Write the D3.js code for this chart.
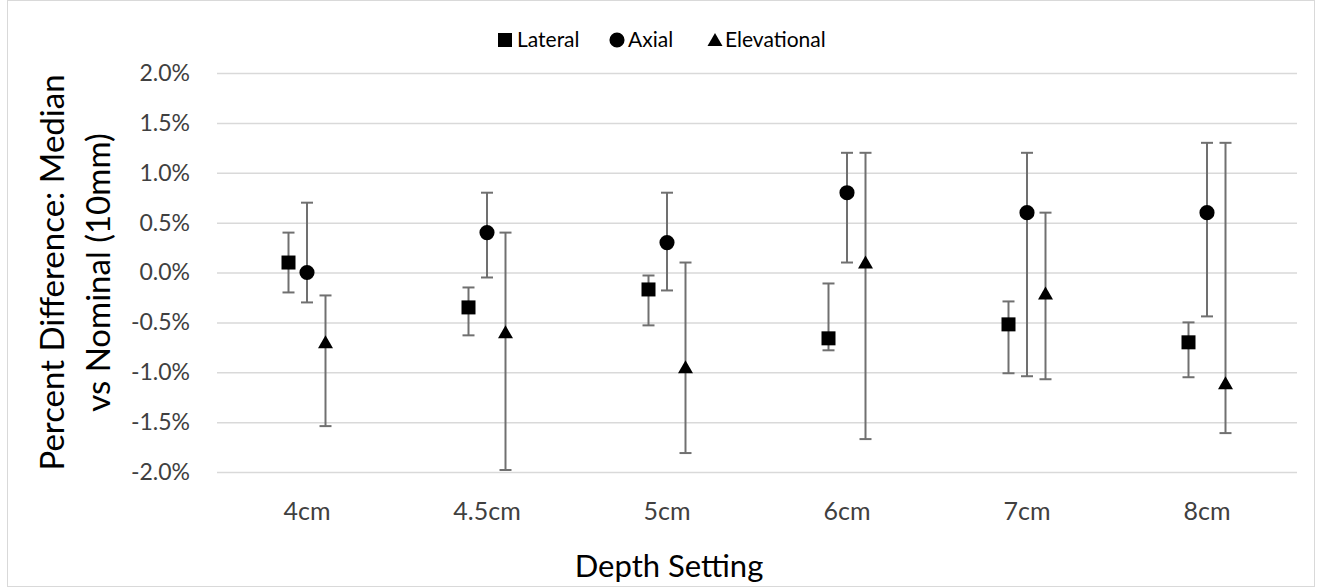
<!DOCTYPE html>
<html>
<head>
<meta charset="utf-8">
<script src="https://cdn.jsdelivr.net/npm/d3@7"></script>
<style>
  body { margin: 0; background: #fff; }
  text { font-family: Lato, "Open Sans", sans-serif; }
</style>
</head>
<body>
<div id="chart"></div>
<script>
// Depth setting vs percent difference, three directions with error bars

const categories = ["4cm", "4.5cm", "5cm", "6cm", "7cm", "8cm"];
const seriesNames = ["Lateral", "Axial", "Elevational"];
const yTicks = [-2, -1.5, -1, -0.5, 0, 0.5, 1, 1.5, 2];

const lateral = [0.10, -0.35, -0.17, -0.66, -0.52, -0.70];
const lateralLow = [-0.20, -0.63, -0.53, -0.78, -1.01, -1.05];
const lateralHigh = [0.40, -0.15, -0.03, -0.11, -0.29, -0.50];

const axial = [0.00, 0.40, 0.30, 0.80, 0.60, 0.60];
const axialLow = [-0.30, -0.05, -0.18, 0.10, -1.04, -0.44];
const axialHigh = [0.70, 0.80, 0.80, 1.20, 1.20, 1.30];

const elevational = [-0.70, -0.60, -0.95, 0.10, -0.21, -1.11];
const elevationalLow = [-1.54, -1.98, -1.81, -1.67, -1.07, -1.61];
const elevationalHigh = [-0.23, 0.40, 0.10, 1.20, 0.60, 1.30];

const [w, h] = [1322, 588];
const margin = {top: 73, right: 25, bottom: 116, left: 217};
const plotW = w - margin.left - margin.right;
const plotH = h - margin.top - margin.bottom;

const barColor = "#707070", gridColor = "#d9d9d9", textColor = "#404040";

const rows = [];
const values = [lateral, axial, elevational];
const lows = [lateralLow, axialLow, elevationalLow];
const highs = [lateralHigh, axialHigh, elevationalHigh];
seriesNames.forEach((s, si) => {
  categories.forEach((c, ci) => {
    rows.push({series: s, cat: c, v: values[si][ci], lo: lows[si][ci], hi: highs[si][ci]});
  });
});

const xScale = d3.scaleBand().domain(categories).range([0, plotW]);
const bw = xScale.bandwidth();
const sScale = d3.scalePoint().domain(seriesNames).range([bw / 2 - 18.5, bw / 2 + 18.5]);
const yScale = d3.scaleLinear().domain([-2, 2]).range([plotH, 0]);

const svg = d3.select("#chart").append("svg")
  .attr("width", w)
  .attr("height", h);

svg.append("rect")
  .attr("x", 7.5).attr("y", 0.5)
  .attr("width", 1307).attr("height", 586)
  .attr("fill", "#fff")
  .attr("stroke", gridColor);

const g = svg.append("g")
  .attr("transform", `translate(${margin.left},${margin.top})`);

// gridlines + y labels
const yAxis = d3.axisLeft(yScale)
  .tickValues(yTicks)
  .tickSize(-plotW)
  .tickPadding(27)
  .tickFormat(d => d.toFixed(1) + "%");

g.append("g").attr("id", "y-axis").call(yAxis)
  .call(a => a.select(".domain").remove())
  .call(a => a.selectAll("line").attr("stroke", gridColor).attr("stroke-width", 1.5))
  .call(a => a.selectAll("text").attr("fill", textColor).style("font-size", "23px"));

// x labels
const xAxis = d3.axisBottom(xScale).tickSize(0).tickPadding(30);
g.append("g").attr("id", "x-axis")
  .attr("transform", `translate(0,${plotH})`)
  .call(xAxis)
  .call(a => a.select(".domain").remove())
  .call(a => a.selectAll("text").attr("fill", textColor).style("font-size", "25px"));

const px = d => xScale(d.cat) + sScale(d.series);

// error bars
const bars = g.selectAll("g.err").data(rows).enter().append("g").attr("class", "err")
  .attr("stroke", barColor).attr("stroke-width", 2);
bars.append("line")
  .attr("x1", px).attr("x2", px)
  .attr("y1", d => yScale(d.lo)).attr("y2", d => yScale(d.hi));
bars.append("line")
  .attr("x1", d => px(d) - 6).attr("x2", d => px(d) + 6)
  .attr("y1", d => yScale(d.lo)).attr("y2", d => yScale(d.lo));
bars.append("line")
  .attr("x1", d => px(d) - 6).attr("x2", d => px(d) + 6)
  .attr("y1", d => yScale(d.hi)).attr("y2", d => yScale(d.hi));

// markers
const shapes = {
  Lateral: d3.symbol().type(d3.symbolSquare).size(196),
  Axial: d3.symbol().type(d3.symbolCircle).size(180),
  Elevational: () => "M0,-7L7.5,6L-7.5,6Z"
};
g.selectAll("path.dot").data(rows).enter().append("path")
  .attr("class", "dot")
  .attr("d", d => shapes[d.series]())
  .attr("transform", d => `translate(${px(d)},${yScale(d.v)})`)
  .attr("fill", "#000");

// legend
const legendItems = [
  {name: "Lateral", x: 505, dx: 12},
  {name: "Axial", x: 617, dx: 11},
  {name: "Elevational", x: 715, dx: 10}
];
const legend = svg.append("g").attr("transform", "translate(0,40)");
legend.selectAll("path").data(legendItems).enter().append("path")
  .attr("d", d => d.name === "Lateral" ? d3.symbol().type(d3.symbolSquare).size(196)()
    : d.name === "Axial" ? d3.symbol().type(d3.symbolCircle).size(180)()
    : "M0,-7L7.5,6L-7.5,6Z")
  .attr("transform", d => `translate(${d.x},0)`)
  .attr("fill", "#000");
legend.selectAll("text").data(legendItems).enter().append("text")
  .attr("x", d => d.x + d.dx)
  .attr("dy", "0.35em")
  .attr("fill", "#000")
  .style("font-size", "21px")
  .text(d => d.name);

// axis titles
svg.append("text")
  .attr("x", 669)
  .attr("y", 577)
  .attr("text-anchor", "middle")
  .attr("fill", "#000")
  .style("font-size", "31px")
  .text("Depth Setting");

const yTitle = svg.append("text")
  .attr("transform", `translate(0,${margin.top + plotH / 2}) rotate(-90)`)
  .attr("text-anchor", "middle")
  .attr("fill", "#000")
  .style("font-size", "33px");
yTitle.append("tspan").attr("x", 0).attr("y", 64).text("Percent Difference: Median");
yTitle.append("tspan").attr("x", 0).attr("y", 110).text("vs Nominal (10mm)");
</script>
</body>
</html>
